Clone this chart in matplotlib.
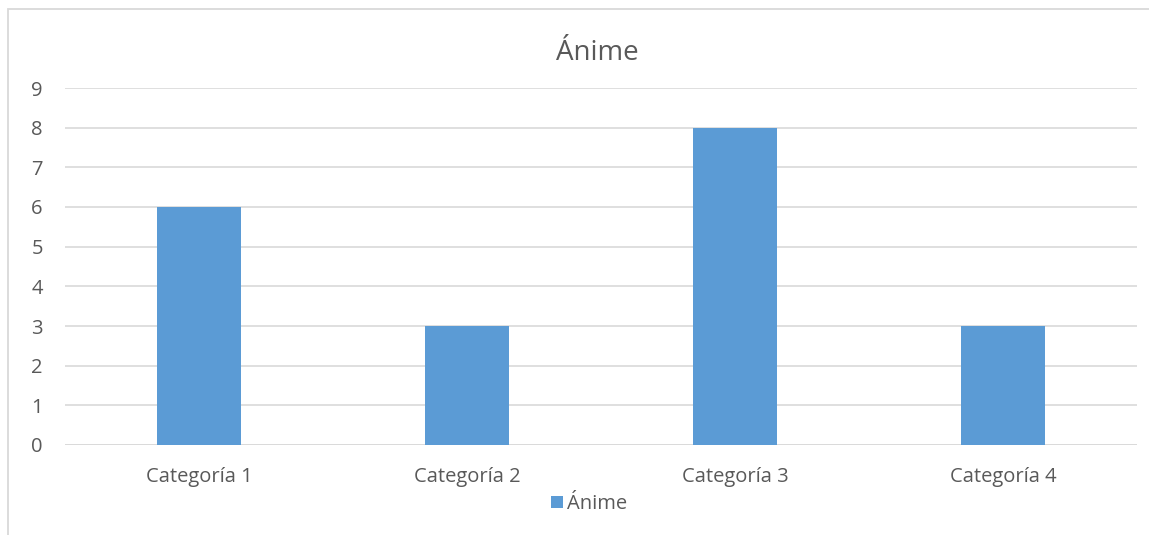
import matplotlib
matplotlib.use("Agg")
import matplotlib.pyplot as plt
from matplotlib.patches import Rectangle

categories = ["Categoría 1", "Categoría 2", "Categoría 3", "Categoría 4"]
values = [6, 3, 8, 3]
series_name = "Ánime"
yticks = list(range(0, 10))

plt.rcParams['font.family'] = ['Open Sans', 'DejaVu Sans']
TXT = "#595959"
BAR = "#5b9bd5"
GRID = "#d9d9d9"

fig = plt.figure(figsize=(11.49, 5.35), dpi=100)
fig.patches.append(Rectangle((8/1149, -0.1), 1.2, 1 - 9/535 + 0.1, transform=fig.transFigure,
                             fill=False, edgecolor="#d9d9d9", linewidth=1.3))
ax = fig.add_axes([65/1149, 1 - 445/535, (1137 - 65)/1149, (445 - 88)/535])
x = range(len(categories))
bars = ax.bar(x, values, width=0.313, color=BAR, zorder=3, label=series_name)
ax.set_xlim(-0.5, len(categories) - 0.5)
ax.set_ylim(0, 9)
ax.set_yticks(yticks)
ax.set_yticklabels([str(t) for t in yticks], fontsize=14.5, color=TXT)
ax.set_xticks(list(x))
ax.set_xticklabels(categories, fontsize=14.5, color=TXT)
ax.tick_params(axis='both', length=0)
ax.tick_params(axis='y', pad=16)
ax.tick_params(axis='x', pad=16)
ax.grid(axis='y', color=GRID, linewidth=1.2, zorder=0)
for s in ax.spines.values():
    s.set_visible(False)
ax.axhline(0, color=GRID, linewidth=1.2, zorder=2)
fig.text(597/1149, 1 - 53/535, "Ánime", ha='center', va='center', fontsize=20, color=TXT)
leg = fig.legend(handles=[bars], labels=[series_name], loc='center', bbox_to_anchor=(589/1149, 1 - 504/535),
                 frameon=False, fontsize=14.5, handlelength=0.6, handleheight=0.6, handletextpad=0.2,
                 labelcolor=TXT)
fig.savefig("out.png", dpi=100)
